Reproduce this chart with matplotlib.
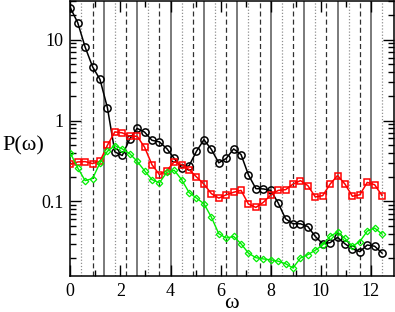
import matplotlib
matplotlib.use('Agg')
import matplotlib.pyplot as plt
from matplotlib.ticker import FixedLocator, NullFormatter, LogLocator

plt.rcParams['font.family'] = ['Liberation Serif', 'DejaVu Serif']

# frequency grid (step 8/27)
omega = [0.000, 0.296, 0.593, 0.889, 1.185, 1.481, 1.778, 2.074, 2.370, 2.667,
         2.963, 3.259, 3.556, 3.852, 4.148, 4.444, 4.741, 5.037, 5.333, 5.630,
         5.926, 6.222, 6.519, 6.815, 7.111, 7.407, 7.704, 8.000, 8.296, 8.593,
         8.889, 9.185, 9.481, 9.778, 10.074, 10.370, 10.667, 10.963, 11.259,
         11.556, 11.852, 12.148, 12.444]

p_black = [24.8, 16.2, 8.07, 4.62, 3.22, 1.44, 0.41, 0.37, 0.59, 0.80,
           0.72, 0.57, 0.545, 0.45, 0.34, 0.26, 0.277, 0.417, 0.58, 0.44,
           0.30, 0.34, 0.446, 0.38, 0.213, 0.144, 0.143, 0.137, 0.096, 0.061,
           0.053, 0.053, 0.049, 0.037, 0.030, 0.031, 0.036, 0.030, 0.026,
           0.024, 0.029, 0.028, 0.023]

p_red = [0.288, 0.308, 0.311, 0.294, 0.314, 0.495, 0.724, 0.704, 0.64, 0.64,
         0.47, 0.285, 0.215, 0.24, 0.31, 0.285, 0.248, 0.201, 0.164, 0.125,
         0.110, 0.121, 0.130, 0.137, 0.093, 0.0845, 0.0975, 0.12, 0.137, 0.14,
         0.164, 0.181, 0.157, 0.114, 0.118, 0.164, 0.209, 0.164, 0.116,
         0.121, 0.172, 0.161, 0.118]

p_green = [0.398, 0.26, 0.181, 0.192, 0.30, 0.417, 0.49, 0.446, 0.39, 0.314,
           0.24, 0.186, 0.17, 0.229, 0.243, 0.186, 0.129, 0.110, 0.094, 0.064,
           0.040, 0.0353, 0.037, 0.030, 0.023, 0.0202, 0.0195, 0.019, 0.0183,
           0.017, 0.0151, 0.020, 0.022, 0.025, 0.029, 0.037, 0.042, 0.035,
           0.028, 0.032, 0.043, 0.047, 0.0395]

# reference lines
lines_dotted = [0.444, 1.778, 3.111, 4.444, 5.778, 7.111, 8.444, 9.778, 11.111, 12.444]
lines_dashed = [0.889, 2.222, 3.556, 4.889, 6.222, 7.556, 8.889, 10.222, 11.556]
lines_solid = [1.333, 2.667, 4.000, 5.333, 6.667, 8.000, 9.333, 10.667, 12.000]

fig = plt.figure(figsize=(3.95, 3.12), dpi=100)
W, H = 395, 312
ax = fig.add_axes([70.3 / W, 1 - 276 / H, (394 - 70.3) / W, 275 / H])

for x in lines_solid:
    ax.axvline(x, color='#707070', lw=1.3, zorder=1)
for x in lines_dashed:
    ax.axvline(x, color='#303030', lw=0.9, ls=(0, (4, 2.5)), zorder=1)
for x in lines_dotted:
    ax.axvline(x, color='#909090', lw=0.9, ls=(0, (1, 1.5)), zorder=1)

ax.plot(omega, p_black, color='black', lw=1.1, marker='o', ms=5.2,
        mfc='none', mec='black', mew=1.1, zorder=3)
ax.plot(omega, p_red, color='red', lw=1.1, marker='s', ms=5.0,
        mfc='none', mec='red', mew=1.1, zorder=3)
ax.plot(omega, p_green, color='#00ee00', lw=1.0, marker='D', ms=3.3,
        mfc='none', mec='#00ee00', mew=0.9, zorder=3)

ax.set_yscale('log')
ax.set_xlim(0, 12.92)
ax.set_ylim(0.012, 30)

ax.set_xticks([0, 2, 4, 6, 8, 10, 12])
ax.set_xticklabels(['0', '2', '4', '6', '8', '10', '12'])
ax.xaxis.set_minor_locator(FixedLocator([1, 3, 5, 7, 9, 11]))
ax.yaxis.set_major_locator(FixedLocator([0.1, 1, 10]))
ax.set_yticklabels(['0.1', '1', '10'])
ax.yaxis.set_minor_locator(LogLocator(base=10, subs=range(2, 10)))
ax.yaxis.set_minor_formatter(NullFormatter())

ax.tick_params(which='both', direction='in', top=True, right=True,
               labelsize=13, width=1)
ax.tick_params(which='major', length=8, pad=5)
ax.tick_params(which='minor', length=4)
for s in ax.spines.values():
    s.set_linewidth(1.1)

fig.text(2 / W, 1 - 146 / H, 'P(\u03c9)', fontsize=16, ha='left', va='center')
fig.text(231 / W, 1 - 304 / H, '\u03c9', fontsize=16, ha='center', va='center')

fig.savefig('out.png', dpi=100)
